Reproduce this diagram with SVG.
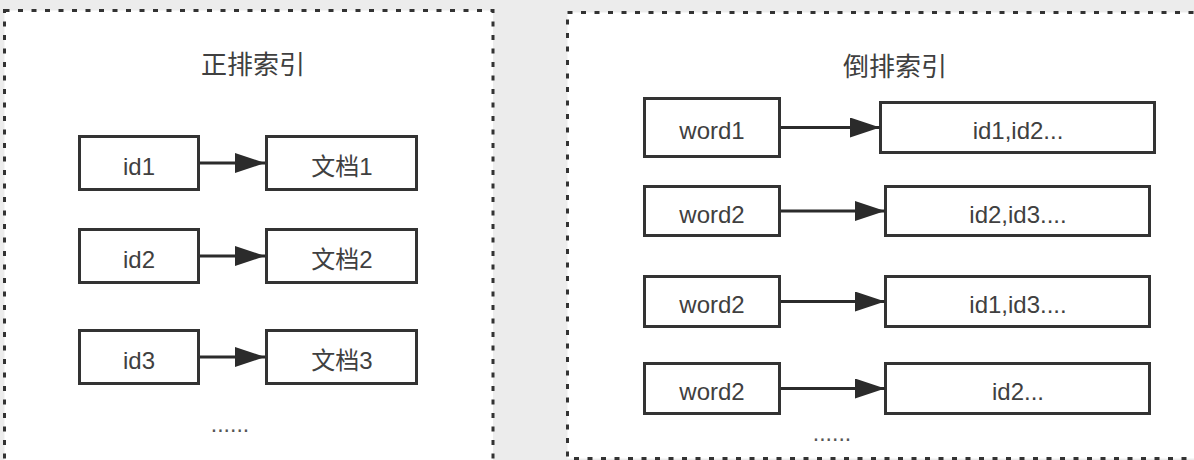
<svg xmlns="http://www.w3.org/2000/svg" width="1194" height="460" viewBox="0 0 1194 460">
  <defs>
    <marker id="arrow" markerUnits="userSpaceOnUse" markerWidth="30" markerHeight="20" viewBox="0 0 30 20" refX="30" refY="10" orient="auto">
      <path d="M0,0 L30,10 L0,20 Z" fill="#2b2b2b"/>
    </marker>
  </defs>
  <style>
    .panel { fill: #ffffff; stroke: #333333; stroke-width: 3; stroke-dasharray: 5 8.5; }
    .box { fill: #ffffff; stroke: #333333; stroke-width: 3; }
    .lbl { font-family: "Liberation Sans", "Noto Sans CJK SC", sans-serif; font-size: 24px; fill: #404040; text-anchor: middle; }
    .title { font-family: "Liberation Sans", "Noto Sans CJK SC", sans-serif; font-size: 26px; fill: #404040; text-anchor: middle; }
    .dots { font-family: "Liberation Sans", "Noto Sans CJK SC", sans-serif; font-size: 23px; fill: #555555; text-anchor: middle; }
    .conn { stroke: #2b2b2b; stroke-width: 3; fill: none; marker-end: url(#arrow); }
  </style>
  <rect x="0" y="0" width="1194" height="460" fill="#ececec"/>

  <g id="panel-forward">
    <rect class="panel" x="4.5" y="10.5" width="488.5" height="451"/>
    <text class="title" x="253" y="74">正排索引</text>
    <text class="dots" x="230" y="432">......</text>
  </g>
  <g id="panel-inverted">
    <rect class="panel" x="567.5" y="12.5" width="640" height="446"/>
    <text class="title" x="895" y="76">倒排索引</text>
    <text class="dots" x="832" y="441">......</text>
  </g>

  <g id="id1"><rect class="box" x="79.5" y="136.5" width="119" height="53"/><text class="lbl" x="139" y="175">id1</text></g>
  <g id="doc1"><rect class="box" x="266.5" y="136.5" width="150" height="53"/><text class="lbl" x="342" y="175">文档1</text></g>
  <g id="id2"><rect class="box" x="79.5" y="229.5" width="119" height="53"/><text class="lbl" x="139" y="268">id2</text></g>
  <g id="doc2"><rect class="box" x="266.5" y="229.5" width="150" height="53"/><text class="lbl" x="342" y="268">文档2</text></g>
  <g id="id3"><rect class="box" x="79.5" y="330.5" width="119" height="53"/><text class="lbl" x="139" y="369">id3</text></g>
  <g id="doc3"><rect class="box" x="266.5" y="330.5" width="150" height="53"/><text class="lbl" x="342" y="369">文档3</text></g>

  <g id="word1"><rect class="box" x="644.5" y="98.5" width="135" height="58"/><text class="lbl" x="712" y="139">word1</text></g>
  <g id="list1"><rect class="box" x="880.5" y="102.5" width="274" height="50"/><text class="lbl" x="1018" y="139">id1,id2...</text></g>
  <g id="word2a"><rect class="box" x="644.5" y="186.5" width="135" height="49"/><text class="lbl" x="712" y="223">word2</text></g>
  <g id="list2"><rect class="box" x="885.5" y="186.5" width="264" height="49"/><text class="lbl" x="1018" y="223">id2,id3....</text></g>
  <g id="word2b"><rect class="box" x="644.5" y="276.5" width="135" height="50"/><text class="lbl" x="712" y="313">word2</text></g>
  <g id="list3"><rect class="box" x="885.5" y="276.5" width="264" height="50"/><text class="lbl" x="1018" y="313">id1,id3....</text></g>
  <g id="word2c"><rect class="box" x="644.5" y="363.5" width="135" height="50"/><text class="lbl" x="712" y="400">word2</text></g>
  <g id="list4"><rect class="box" x="885.5" y="363.5" width="264" height="50"/><text class="lbl" x="1018" y="400">id2...</text></g>

  <g id="connectors">
    <path class="conn" d="M200,163 L265,163"/>
    <path class="conn" d="M200,256 L265,256"/>
    <path class="conn" d="M200,357 L265,357"/>
    <path class="conn" d="M781,127.5 L880,127.5"/>
    <path class="conn" d="M781,211 L885,211"/>
    <path class="conn" d="M781,301.5 L885,301.5"/>
    <path class="conn" d="M781,388.5 L885,388.5"/>
  </g>
</svg>
